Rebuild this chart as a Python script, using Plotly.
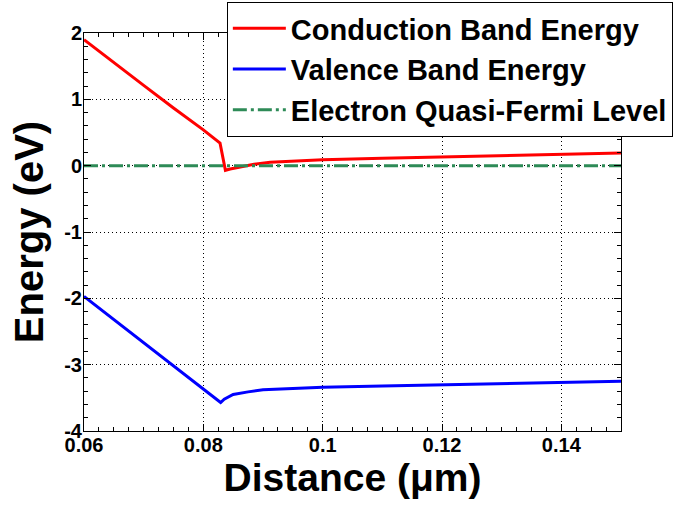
import plotly.graph_objects as go

# Conduction band
cb_x = [0.06, 0.065, 0.07, 0.075, 0.08, 0.0828, 0.0831, 0.0834, 0.0837, 0.0845, 0.0855, 0.0865,
        0.0885, 0.0912, 0.095, 0.1, 0.11, 0.12, 0.13, 0.14, 0.15]
cb_y = [1.90, 1.55, 1.21, 0.87, 0.54, 0.34, 0.22, 0.06, -0.07, -0.05, -0.03, -0.01,
        0.02, 0.05, 0.07, 0.09, 0.11, 0.13, 0.15, 0.17, 0.19]
# Valence band
vb_x = [0.06, 0.065, 0.07, 0.075, 0.08, 0.0829, 0.0835, 0.085, 0.0875, 0.09, 0.095, 0.1,
        0.11, 0.12, 0.13, 0.14, 0.15]
vb_y = [-1.97, -2.32, -2.67, -3.02, -3.37, -3.57, -3.52, -3.45, -3.41, -3.38, -3.36, -3.34,
        -3.32, -3.30, -3.28, -3.27, -3.25]
# Electron quasi-Fermi level
ef_x = [0.06, 0.15]
ef_y = [0.0, 0.0]

names = ["Conduction Band Energy", "Valence Band Energy", "Electron Quasi-Fermi Level"]

x_ticks = [0.06, 0.08, 0.1, 0.12, 0.14]
x_ticktext = ["0.06", "0.08", "0.1", "0.12", "0.14"]
y_ticks = [-4, -3, -2, -1, 0, 1, 2]
y_ticktext = ["-4", "-3", "-2", "-1", "0", "1", "2"]

FONT = "Liberation Sans, Arial, sans-serif"

fig = go.Figure()
fig.add_trace(go.Scatter(x=cb_x, y=cb_y, mode="lines", name=names[0], legendgroup="a",
                         line=dict(color="#ff0000", width=3)))
fig.add_trace(go.Scatter(x=vb_x, y=vb_y, mode="lines", name=names[1], legendgroup="b",
                         line=dict(color="#0000ff", width=3)))
fig.add_trace(go.Scatter(x=ef_x, y=ef_y, mode="lines", name=names[2], legendgroup="c",
                         line=dict(color="#2e8b57", width=3, dash="14px,4px,3px,4px")))

axis_common = dict(
    showline=True, linecolor="black", linewidth=1, mirror="allticks",
    ticks="inside", ticklen=7, tickcolor="black", tickwidth=1,
    showgrid=True, gridcolor="black", gridwidth=1, griddash="1px,3px",
    zeroline=False,
    tickfont=dict(family=FONT, size=20, color="black", weight="bold"),
    minor=dict(ticks="inside", ticklen=4, tickcolor="black", showgrid=False),
)

fig.update_xaxes(range=[0.06, 0.15],
                 tickvals=x_ticks, ticktext=x_ticktext,
                 minor_dtick=0.0025, minor_tick0=0.06,
                 ticklabelstandoff=-4,
                 title=dict(text="Distance (\u03bcm)", standoff=5,
                            font=dict(family=FONT, size=39, color="black", weight="bold")),
                 **axis_common)
fig.update_yaxes(range=[-4, 2],
                 tickvals=y_ticks, ticktext=y_ticktext,
                 minor_dtick=0.2, minor_tick0=0,
                 ticklabelstandoff=-3,
                 title=dict(text="Energy (eV)", standoff=8,
                            font=dict(family=FONT, size=40, color="black", weight="bold")),
                 **axis_common)

fig.update_layout(
    width=675, height=506,
    margin=dict(l=84, r=54, t=33, b=75, autoexpand=False),
    paper_bgcolor="white", plot_bgcolor="white",
    showlegend=True,
    legend=dict(x=0.266, y=1.078, xanchor="left", yanchor="top",
                bgcolor="white", bordercolor="black", borderwidth=1,
                font=dict(family=FONT, size=29, color="black", weight="bold"),
                itemwidth=53, tracegroupgap=0, traceorder="normal"),
)

fig.write_html("out.html")
